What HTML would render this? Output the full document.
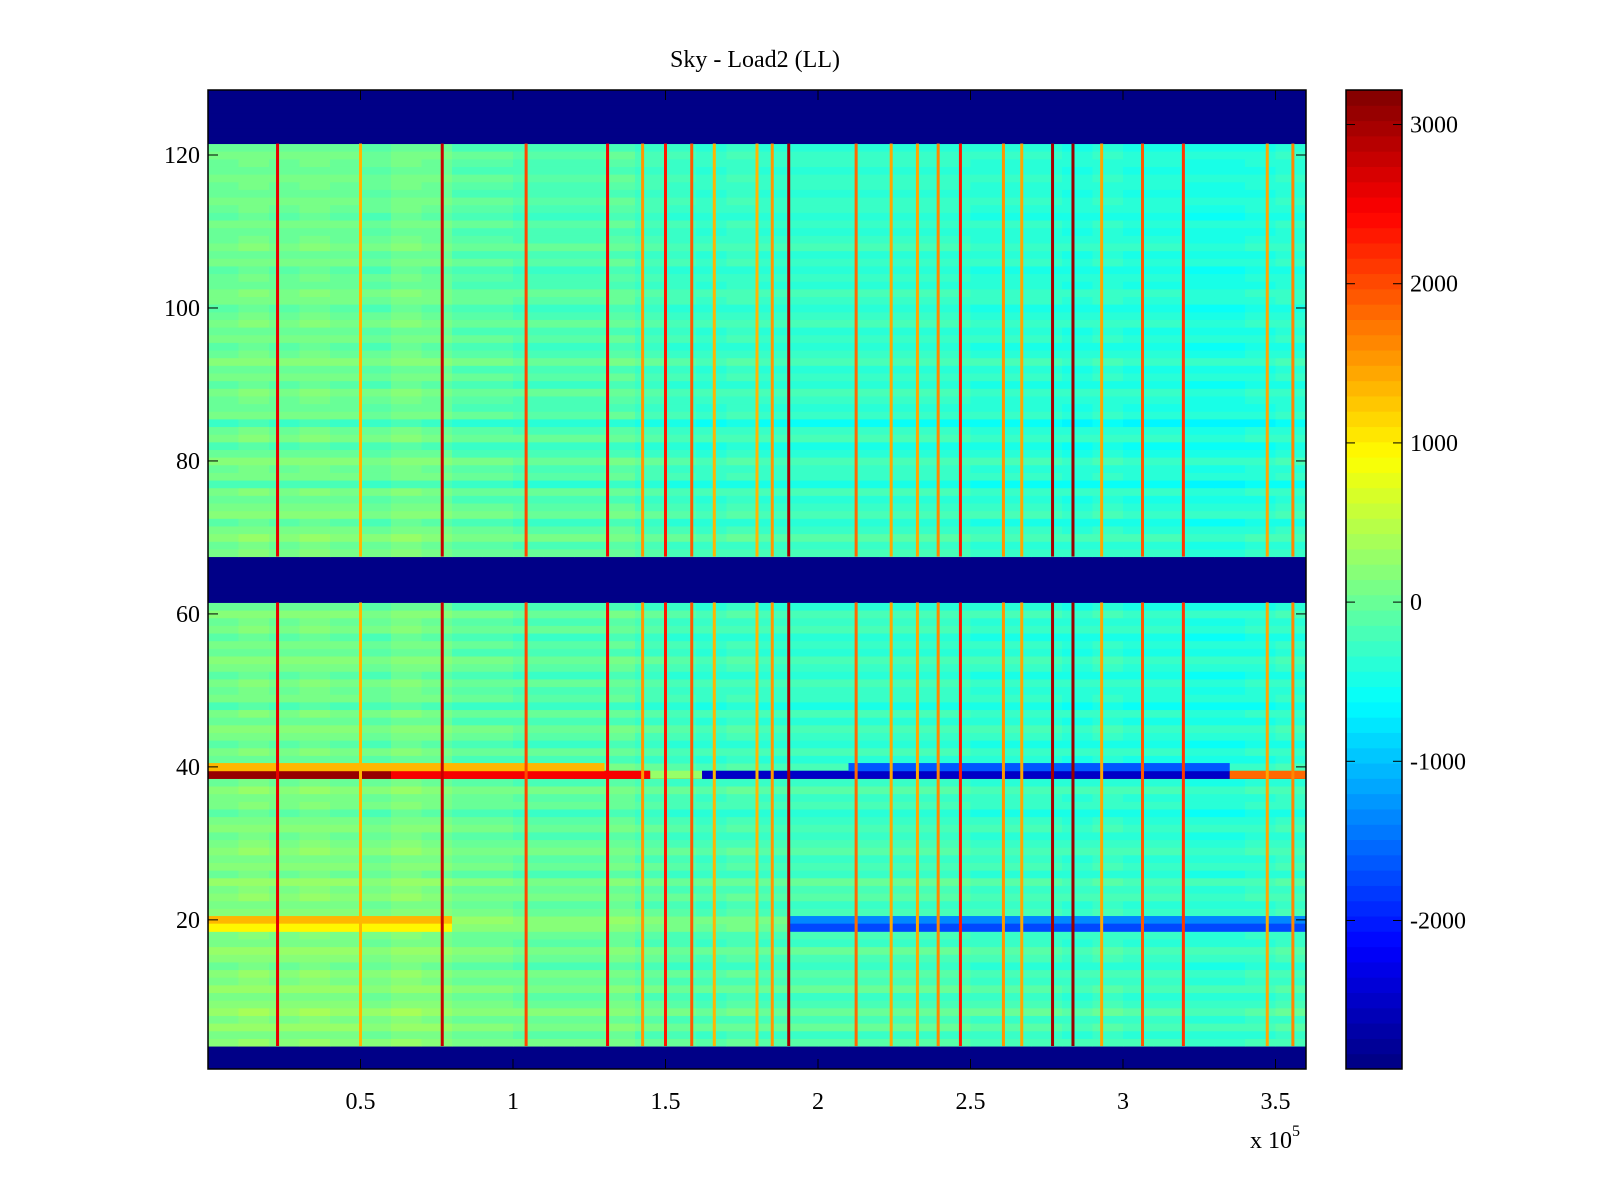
<!DOCTYPE html>
<html><head><meta charset="utf-8"><style>
html,body{margin:0;padding:0;background:#fff}
svg{display:block}
text{font-family:"Liberation Serif",serif;fill:#000}
</style></head><body>
<svg id="chart" xmlns="http://www.w3.org/2000/svg" width="1600" height="1200" viewBox="0 0 1600 1200">
<rect width="1600" height="1200" fill="#fff"/>
<text x="755" y="67" font-size="24" text-anchor="middle">Sky - Load2 (LL)</text>
<g id="cells"></g>
<g id="axes"></g>
<g id="cbar"></g>
<text x="1250" y="1148" font-size="24">x 10<tspan dy="-12" font-size="16">5</tspan></text>
</svg>
<script>
// ---- data ----
const VMIN = -2933, VMAX = 3217;
const xRange = [0, 360000];
const yRange = [0.5, 128.5];
const xTicks = [50000, 100000, 150000, 200000, 250000, 300000, 350000];
const xTickLabels = ["0.5","1","1.5","2","2.5","3","3.5"];
const yTicks = [20, 40, 60, 80, 100, 120];
const yTickLabels = ["20","40","60","80","100","120"];
const cTicks = [-2000, -1000, 0, 1000, 2000, 3000];
const cTickLabels = ["-2000","-1000","0","1000","2000","3000"];
// row baselines, rows 1..128 (null = masked/min)
const rowBase = [
 null,null,null,
 0,-150,50,-100,100,-50,-150,50,-100,0,-200,-50,50,-150,-100,100,150,
 -50,-150,0,-100,50,-200,-50,-150,0,-100,-200,-50,-150,-300,-100,-150,0,-200,3000,-50,
 -250,-100,-300,-150,-50,-250,-100,-350,-150,-200,-100,-300,-150,-50,-250,-150,-300,-100,-200,-50,-250,
 null,null,null,null,null,null,
 -100,-200,0,-150,-300,-50,-150,-250,-100,-400,-150,-200,-50,-250,-350,-100,-200,-450,-150,-250,
 -200,-100,-300,-150,-250,-50,-200,-300,-150,-250,-100,-200,-300,-150,-100,-250,-200,-300,-150,-250,
 -100,-200,-250,-150,-300,-200,-150,-250,-200,-150,-250,-200,-150,-250,
 null,null,null,null,null,null,null
];
const colOffset = [200,250,200,250,200,150,250,200,100,100,50,50,50,100,0,-50,-100,-50,-100,-100,-100,-100,-100,-100,-100,-150,-150,-150,-200,-150,-200,-200,-250,-250,-200,-150];
// vertical stripes: x centre, value
const stripeX = [22800,50000,76800,104300,131000,142500,150000,158600,166000,180000,185000,190400,212500,224000,232600,239400,246700,260800,266800,276900,283600,293000,306400,319800,347300,355700];
const stripeV = [2600,1300,2800,2000,2500,1500,2300,1900,1300,1300,1500,3000,1800,1400,1400,1600,2300,1500,1400,3000,3100,1400,1900,2100,1400,1600];
// horizontal segment overrides: row, x0, x1, value
const segRow = [39,39,39,39,39,40,40,20,19,20,19];
const segX0  = [0,60000,145000,162000,335000,0,210000,0,0,190000,190000];
const segX1  = [60000,145000,162000,335000,360000,130000,335000,80000,80000,360000,360000];
const segV   = [3100,2500,300,-2500,1800,1300,-1600,1300,1000,-1300,-1700];

// ---- scales ----
const PX0=208, PX1=1306, PY0=90, PY1=1069;
const sx = v => PX0 + (v - xRange[0]) / (xRange[1]-xRange[0]) * (PX1-PX0);
const sy = v => PY1 - (v - yRange[0]) / (yRange[1]-yRange[0]) * (PY1-PY0);
function jet(v){
  let t=(v-VMIN)/(VMAX-VMIN); t=Math.max(0,Math.min(0.9999,t));
  t=(Math.floor(t*64)+0.5)/64;
  const f=x=>Math.round(255*Math.max(0,Math.min(1,x)));
  return `rgb(${f(1.5-Math.abs(4*t-3))},${f(1.5-Math.abs(4*t-2))},${f(1.5-Math.abs(4*t-1))})`;
}
const NS="http://www.w3.org/2000/svg";
function mk(tag,attrs,parent){const e=document.createElementNS(NS,tag);for(const k in attrs)e.setAttribute(k,attrs[k]);parent.appendChild(e);return e;}
const cells=document.getElementById('cells');
const nCols=colOffset.length, colW=(xRange[1]-xRange[0])/nCols;
for(let r=1;r<=128;r++){
  const b=rowBase[r-1];
  const y0=sy(r+0.5), y1=sy(r-0.5);
  if(b===null){
    const e=mk('rect',{x:PX0,y:y0,width:PX1-PX0,height:y1-y0+0.5,fill:jet(VMIN)},cells);
    
    
    continue;
  }
  for(let c=0;c<nCols;c++){
    const v = b>=2000 ? b : b+colOffset[c];
    const xa=sx(c*colW), xb=sx((c+1)*colW);
    const e=mk('rect',{x:xa,y:y0,width:xb-xa+0.5,height:y1-y0+0.5,fill:jet(v)},cells);
    
    
  }
}
for(let i=0;i<segRow.length;i++){
  const r=segRow[i];
  const e=mk('rect',{x:sx(segX0[i]),y:sy(r+0.5),width:sx(segX1[i])-sx(segX0[i]),height:sy(r-0.5)-sy(r+0.5)+0.5,fill:jet(segV[i])},cells);
  
  
}
function drawStripe(x,v){
  const bands=[[3.5,61.5],[67.5,121.5]];
  for(const [a,b] of bands){
    const e=mk('rect',{x:sx(x)-1.5,y:sy(b),width:3,height:sy(a)-sy(b),fill:jet(v)},cells);
    
    
  }
}
for(let i=0;i<stripeX.length;i++) drawStripe(stripeX[i],stripeV[i]);

// ---- axes ----
const ax=document.getElementById('axes');
const frame=mk('rect',{x:PX0,y:PY0,width:PX1-PX0,height:PY1-PY0,fill:'none',stroke:'#000','stroke-width':1.5},ax);


xTicks.forEach((t,i)=>{
  const x=sx(t);
  mk('line',{x1:x,y1:PY1,x2:x,y2:PY1-10,stroke:'#000'},ax);
  mk('line',{x1:x,y1:PY0,x2:x,y2:PY0+10,stroke:'#000'},ax);
  const tx=mk('text',{x:x,y:PY1+40,'font-size':24,'text-anchor':'middle'},ax);
  tx.textContent=xTickLabels[i];
  
  
});
yTicks.forEach((t,i)=>{
  const y=sy(t);
  mk('line',{x1:PX0,y1:y,x2:PX0+10,y2:y,stroke:'#000'},ax);
  mk('line',{x1:PX1,y1:y,x2:PX1-10,y2:y,stroke:'#000'},ax);
  const tx=mk('text',{x:PX0-8,y:y+8,'font-size':24,'text-anchor':'end'},ax);
  tx.textContent=yTickLabels[i];
  
  
});

// ---- colorbar ----
const cb=document.getElementById('cbar');
const CX0=1346, CX1=1402;
const cy=v=>PY1-(v-VMIN)/(VMAX-VMIN)*(PY1-PY0);
for(let k=0;k<64;k++){
  const v0=VMIN+k*(VMAX-VMIN)/64, v1=VMIN+(k+1)*(VMAX-VMIN)/64;
  const e=mk('rect',{x:CX0,y:cy(v1),width:CX1-CX0,height:cy(v0)-cy(v1)+0.5,fill:jet((v0+v1)/2)},cb);
  
  
}
const cf=mk('rect',{x:CX0,y:PY0,width:CX1-CX0,height:PY1-PY0,fill:'none',stroke:'#000','stroke-width':1.5},cb);


cTicks.forEach((t,i)=>{
  const y=cy(t);
  mk('line',{x1:CX0,y1:y,x2:CX0+9,y2:y,stroke:'#000'},cb);
  mk('line',{x1:CX1,y1:y,x2:CX1-9,y2:y,stroke:'#000'},cb);
  const tx=mk('text',{x:CX1+8,y:y+8,'font-size':24},cb);
  tx.textContent=cTickLabels[i];
  
  
});
</script>
</body></html>
